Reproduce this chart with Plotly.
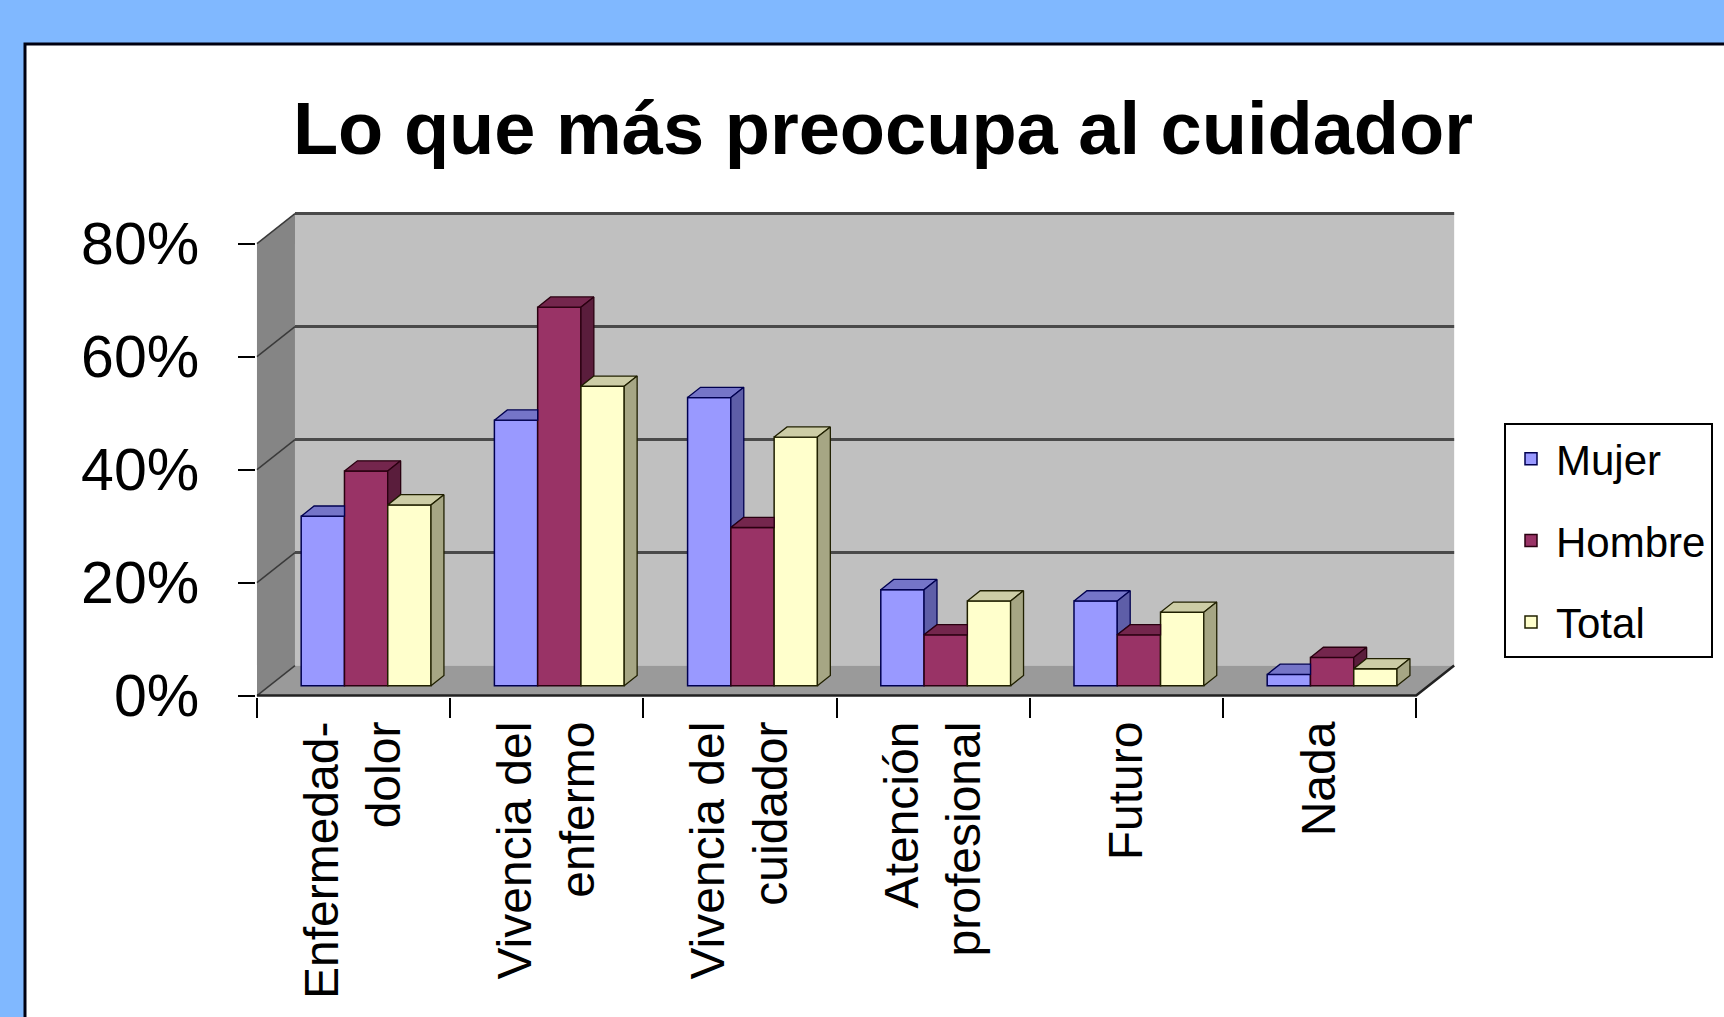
import plotly.graph_objects as go

# ---------------- data ----------------
categories = ["Enfermedad-<br>dolor", "Vivencia del<br>enfermo", "Vivencia del<br>cuidador",
              "Atención<br>profesional", "Futuro", "Nada"]
series_names = ["Mujer", "Hombre", "Total"]
mujer = [30, 47, 51, 17, 15, 2]
hombre = [38, 67, 28, 9, 9, 5]
total = [32, 53, 44, 15, 13, 3]
y_tick_values = [0, 20, 40, 60, 80]
y_tick_labels = ["0%", "20%", "40%", "60%", "80%"]

# ---------------- style / layout constants ----------------
W, H = 1724, 1017
FONT = "Liberation Sans, Arial, sans-serif"
front_colors = ["#9999FF", "#993366", "#FFFFCC"]
top_colors = ["#7575C8", "#74264D", "#CDCDA6"]
side_colors = ["#5E5EA8", "#5A1D3C", "#A6A684"]
edge_colors = ["#000050", "#2a0010", "#202000"]

PX_X = 193.2          # px per category on the front plane
PX_Y = 5.65           # px per percentage point
DX = 38 / PX_X        # depth offset of the box (x, data units)
DY = 30 / PX_Y        # depth offset of the box (y, data units)
F, D = 0.33, 0.34     # bar front position and bar depth (fractions of box depth)
BARGAP = 0.328
BW = (1 - BARGAP) / 3
BASE, FX = F * DY, F * DX
ddx, ddy = D * DX, D * DY

ML, MR, MT, MB = 256, 268, 212, 320
plot_w = W - ML - MR
plot_h = H - MT - MB
X0 = -0.005
X1 = X0 + plot_w / PX_X
Y0 = -0.25
Y1 = Y0 + plot_h / PX_Y

ncat = len(categories)
centers = [i + 0.5 + FX for i in range(ncat)]
ymax_wall = y_tick_values[-1]

fig = go.Figure()

all_series = [mujer, hombre, total]
for k, (name, vals) in enumerate(zip(series_names, all_series)):
    fig.add_trace(go.Bar(
        x=centers, y=vals, base=BASE, name=name,
        marker=dict(color=front_colors[k], line=dict(color=edge_colors[k], width=1.5)),
        legendgroup=name,
        hovertemplate="%{y}%<extra>" + name + "</extra>",
    ))

# 3D top and side faces derived from the values
for k, vals in enumerate(all_series):
    nxt = all_series[k + 1] if k + 1 < len(all_series) else None
    tx, ty, sx, sy = [], [], [], []
    for i, v in enumerate(vals):
        xl = centers[i] + (k - 1) * BW - BW / 2
        xr = xl + BW
        t = BASE + v
        nv = nxt[i] if nxt is not None else None
        if nv is not None and nv >= v:
            pts = [(xl, t), (xr, t), (xr, t + ddy), (xl + ddx, t + ddy)]
        else:
            pts = [(xl, t), (xr, t), (xr + ddx, t + ddy), (xl + ddx, t + ddy)]
        for p in pts + [pts[0]]:
            tx.append(p[0]); ty.append(p[1])
        tx.append(None); ty.append(None)
        if nv is None:
            low = BASE
        elif nv < v:
            low = BASE + nv
        else:
            low = None
        if low is not None:
            sp = [(xr, low), (xr + ddx, low + ddy), (xr + ddx, t + ddy), (xr, t)]
            for p in sp + [sp[0]]:
                sx.append(p[0]); sy.append(p[1])
            sx.append(None); sy.append(None)
    fig.add_trace(go.Scatter(x=tx, y=ty, mode="lines", fill="toself",
                             fillcolor=top_colors[k], line=dict(color=edge_colors[k], width=1.3),
                             hoverinfo="skip", showlegend=False))
    fig.add_trace(go.Scatter(x=sx, y=sy, mode="lines", fill="toself",
                             fillcolor=side_colors[k], line=dict(color=edge_colors[k], width=1.3),
                             hoverinfo="skip", showlegend=False))

# ---------------- decorations (walls, floor, gridlines) ----------------
def px_to_paper_x(px):
    return (px - ML) / plot_w

def px_to_paper_y(py):
    return (H - MB - py) / plot_h

shapes = [
    # white chart panel
    dict(type="rect", xref="paper", yref="paper",
         x0=px_to_paper_x(25), x1=px_to_paper_x(W + 50),
         y0=px_to_paper_y(H + 50), y1=px_to_paper_y(44),
         fillcolor="white", line=dict(color="#000010", width=3), layer="below"),
    # back wall
    dict(type="rect", xref="x", yref="y", x0=DX, x1=ncat + DX, y0=DY, y1=ymax_wall + DY,
         fillcolor="#C0C0C0", line=dict(width=0), layer="below"),
    # side wall
    dict(type="path", xref="x", yref="y",
         path=f"M 0,0 L {DX},{DY} L {DX},{ymax_wall + DY} L 0,{ymax_wall} Z",
         fillcolor="#858585", line=dict(width=0), layer="below"),
    # floor
    dict(type="path", xref="x", yref="y",
         path=f"M 0,0 L {ncat},0 L {ncat + DX},{DY} L {DX},{DY} Z",
         fillcolor="#9A9A9A", line=dict(width=0), layer="below"),
]
for v in y_tick_values:
    if v > 0:
        shapes.append(dict(type="line", xref="x", yref="y", x0=DX, x1=ncat + DX,
                           y0=v + DY, y1=v + DY, line=dict(color="#4A4A4A", width=3), layer="below"))
    shapes.append(dict(type="line", xref="x", yref="y", x0=0, x1=DX, y0=v, y1=v + DY,
                       line=dict(color="#3A3A3A", width=1.5), layer="below"))
# front axis edge
shapes.append(dict(type="path", xref="x", yref="y",
                   path=f"M 0,0 L {ncat},0 L {ncat + DX},{DY}",
                   line=dict(color="#222222", width=2.5), layer="above"))

fig.update_layout(
    width=W, height=H,
    margin=dict(l=ML, r=MR, t=MT, b=MB, autoexpand=False),
    paper_bgcolor="#80B8FF",
    plot_bgcolor="rgba(0,0,0,0)",
    barmode="group", bargap=BARGAP, bargroupgap=0,
    shapes=shapes,
    font=dict(family=FONT, color="black"),
    title=dict(text="Lo que más preocupa al cuidador",
               font=dict(family=FONT, size=74, color="black", weight="bold"),
               x=883 / W, xref="container", xanchor="center",
               y=1 - 128 / H, yref="container", yanchor="middle"),
    xaxis=dict(range=[X0, X1], tickmode="array", tickvals=[i + 0.5 for i in range(ncat)],
               ticktext=categories, ticks="", tickangle=-90,
               tickfont=dict(family=FONT, size=48, color="black"),
               showgrid=False, zeroline=False, showline=False, ticklabelstandoff=14,
               minor=dict(tickmode="array", tickvals=list(range(ncat + 1)), ticks="outside",
                          ticklen=20, tickwidth=2, tickcolor="black", showgrid=False),
               fixedrange=True),
    yaxis=dict(range=[Y0, Y1], tickmode="array", tickvals=y_tick_values, ticktext=y_tick_labels,
               ticks="outside", ticklen=17, tickwidth=2, tickcolor="black",
               tickfont=dict(family=FONT, size=59, color="black"),
               showgrid=False, zeroline=False, showline=False, ticklabelstandoff=27,
               fixedrange=True),
    legend=dict(x=px_to_paper_x(1504), y=px_to_paper_y(423), xanchor="left", yanchor="top",
                bgcolor="white", bordercolor="black", borderwidth=2,
                font=dict(family=FONT, size=42, color="black"),
                tracegroupgap=24, traceorder="grouped", itemwidth=40),
    showlegend=True,
)

fig.write_html("out.html", config={"displayModeBar": False},
               post_script="document.body.style.margin='0';document.body.style.overflow='hidden';")
